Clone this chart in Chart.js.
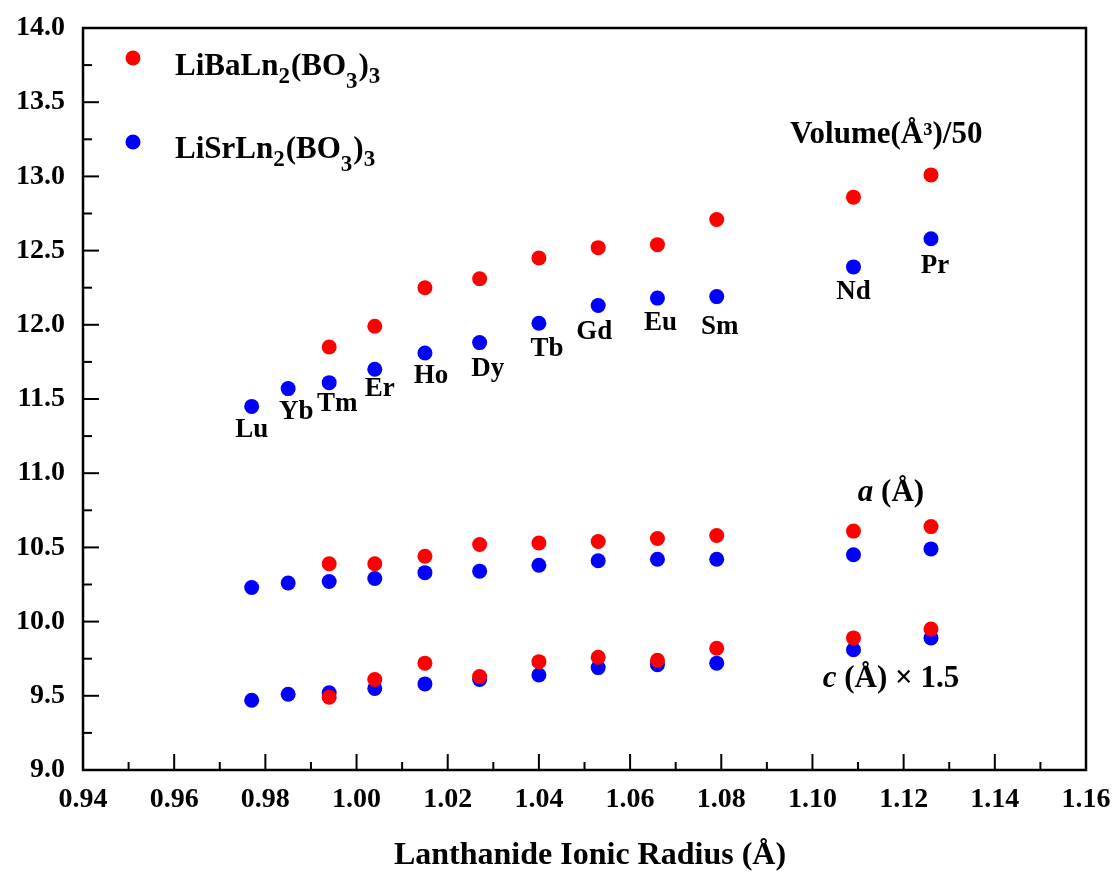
<!DOCTYPE html>
<html>
<head>
<meta charset="utf-8">
<script src="https://cdn.jsdelivr.net/npm/chart.js@4/dist/chart.umd.min.js"></script>
<style>
  html, body { margin: 0; padding: 0; background: #ffffff; }
  #wrap { width: 1115px; height: 875px; }
</style>
</head>
<body>
<div id="wrap"><canvas id="c" width="1115" height="875"></canvas></div>
<script>
// ---- data ----
const elements = ['Lu','Yb','Tm','Er','Ho','Dy','Tb','Gd','Eu','Sm','Nd','Pr'];
const radiusSr = [0.977,0.985,0.994,1.004,1.015,1.027,1.040,1.053,1.066,1.079,1.109,1.126];
const radiusBa = [0.994,1.004,1.015,1.027,1.040,1.053,1.066,1.079,1.109,1.126];

const baVolume = [11.85,11.99,12.25,12.31,12.45,12.52,12.54,12.71,12.86,13.01];
const baA      = [10.39,10.39,10.44,10.52,10.53,10.54,10.56,10.58,10.61,10.64];
const baC      = [9.49,9.61,9.72,9.63,9.73,9.76,9.74,9.82,9.89,9.95];

const srVolume = [11.45,11.57,11.61,11.70,11.81,11.88,12.01,12.13,12.18,12.19,12.39,12.58];
const srA      = [10.23,10.26,10.27,10.29,10.33,10.34,10.38,10.41,10.42,10.42,10.45,10.49];
const srC      = [9.47,9.51,9.52,9.55,9.58,9.61,9.64,9.69,9.71,9.72,9.81,9.89];

const xTicks = [0.94,0.96,0.98,1.00,1.02,1.04,1.06,1.08,1.10,1.12,1.14,1.16];
const yTicks = [9.0,9.5,10.0,10.5,11.0,11.5,12.0,12.5,13.0,13.5,14.0];

const xTitle = 'Lanthanide Ionic Radius (Å)';
const legendBa = [['LiBaLn',0],['2',1],['(BO',0],['3',2],[')',0],['3',1]];
const legendSr = [['LiSrLn',0],['2',1],['(BO',0],['3',2],[')',0],['3',1]];

// ---- helpers ----
function pts(xs, ys) { return xs.map((x, i) => ({ x: x, y: ys[i] })); }
const RED = '#ff0000', BLUE = '#0000ff';
const FONT = '"Liberation Serif", "Times New Roman", serif';

// label offsets (px) relative to the blue volume points
const labelDx = [0,8,8,5,6,8,8,-4,3,3,0,4];
const labelDy = [24,23,21,20,23,26,26,27,25,30,25,27];

const decoPlugin = {
  id: 'deco',
  beforeDatasetsDraw(chart) {
    const ctx = chart.ctx, a = chart.chartArea;
    const xs = chart.scales.x, ys = chart.scales.y;
    ctx.save();
    ctx.strokeStyle = '#000';
    ctx.lineWidth = 2.5;
    ctx.strokeRect(a.left, a.top, a.right - a.left, a.bottom - a.top);
    ctx.lineWidth = 2;
    ctx.fillStyle = '#000';
    ctx.font = 'bold 28px ' + FONT;
    // x ticks (inward) + labels
    ctx.textAlign = 'center';
    ctx.textBaseline = 'middle';
    for (let i = 0; i < xTicks.length; i++) {
      const px = xs.getPixelForValue(xTicks[i]);
      ctx.beginPath(); ctx.moveTo(px, a.bottom); ctx.lineTo(px, a.bottom - 16); ctx.stroke();
      if (i < xTicks.length - 1) {
        const pm = xs.getPixelForValue((xTicks[i] + xTicks[i+1]) / 2);
        ctx.beginPath(); ctx.moveTo(pm, a.bottom); ctx.lineTo(pm, a.bottom - 8); ctx.stroke();
      }
      ctx.fillText(xTicks[i].toFixed(2), px, a.bottom + 30);
    }
    ctx.textAlign = 'right';
    for (let i = 0; i < yTicks.length; i++) {
      const py = ys.getPixelForValue(yTicks[i]);
      ctx.beginPath(); ctx.moveTo(a.left, py); ctx.lineTo(a.left + 16, py); ctx.stroke();
      if (i < yTicks.length - 1) {
        const pm = ys.getPixelForValue((yTicks[i] + yTicks[i+1]) / 2);
        ctx.beginPath(); ctx.moveTo(a.left, pm); ctx.lineTo(a.left + 9, pm); ctx.stroke();
      }
      ctx.fillText(yTicks[i].toFixed(1), a.left - 18, py);
    }
    // x title
    ctx.textAlign = 'center';
    ctx.textBaseline = 'alphabetic';
    ctx.font = 'bold 32px ' + FONT;
    ctx.fillText(xTitle, 590, 864);
    ctx.restore();
  },
  afterDatasetsDraw(chart) {
    const ctx = chart.ctx;
    const xs = chart.scales.x, ys = chart.scales.y;
    ctx.save();
    ctx.fillStyle = '#000';
    // legend
    function drawFormula(parts, x, base) {
      let cx = x;
      ctx.textBaseline = 'alphabetic';
      ctx.textAlign = 'left';
      for (const [t, lvl] of parts) {
        const size = lvl === 0 ? 31 : 23;
        const dy = lvl === 0 ? 0 : (lvl === 1 ? 8 : 13);
        ctx.font = 'bold ' + size + 'px ' + FONT;
        ctx.fillText(t, cx, base + dy);
        cx += ctx.measureText(t).width + (lvl === 0 ? 0 : 1);
      }
    }
    ctx.fillStyle = RED;
    ctx.beginPath(); ctx.arc(133, 58, 7.5, 0, Math.PI*2); ctx.fill();
    ctx.fillStyle = BLUE;
    ctx.beginPath(); ctx.arc(133, 142, 7.5, 0, Math.PI*2); ctx.fill();
    ctx.fillStyle = '#000';
    drawFormula(legendBa, 175, 75);
    drawFormula(legendSr, 175, 158);

    // element labels
    ctx.font = 'bold 27px ' + FONT;
    ctx.textAlign = 'center';
    ctx.textBaseline = 'middle';
    for (let i = 0; i < elements.length; i++) {
      const px = xs.getPixelForValue(radiusSr[i]) + labelDx[i];
      const py = ys.getPixelForValue(srVolume[i]) + labelDy[i];
      ctx.fillText(elements[i], px, py);
    }

    // annotations
    ctx.textBaseline = 'alphabetic';
    ctx.textAlign = 'left';
    ctx.font = 'bold 31px ' + FONT;
    ctx.fillText('Volume(Å³)/50', 790, 143);

    function mixed(parts, cxCenter, base) {
      let w = 0;
      for (const [t, it] of parts) { ctx.font = (it ? 'italic ' : '') + 'bold 31px ' + FONT; w += ctx.measureText(t).width; }
      let x = cxCenter - w / 2;
      for (const [t, it] of parts) {
        ctx.font = (it ? 'italic ' : '') + 'bold 31px ' + FONT;
        ctx.fillText(t, x, base);
        x += ctx.measureText(t).width;
      }
    }
    mixed([['a', true], [' (Å)', false]], 891, 501);
    mixed([['c', true], [' (Å) × 1.5', false]], 891, 687);
    ctx.restore();
  }
};

const ctx = document.getElementById('c').getContext('2d');
new Chart(ctx, {
  type: 'scatter',
  data: {
    datasets: [
      { label: 'LiBaLn2(BO3)3 V/50', data: pts(radiusBa, baVolume), backgroundColor: RED, order: 1 },
      { label: 'LiBaLn2(BO3)3 a', data: pts(radiusBa, baA), backgroundColor: RED, order: 1 },
      { label: 'LiBaLn2(BO3)3 c*1.5', data: pts(radiusBa, baC), backgroundColor: RED, order: 1 },
      { label: 'LiSrLn2(BO3)3 V/50', data: pts(radiusSr, srVolume), backgroundColor: BLUE, order: 2 },
      { label: 'LiSrLn2(BO3)3 a', data: pts(radiusSr, srA), backgroundColor: BLUE, order: 2 },
      { label: 'LiSrLn2(BO3)3 c*1.5', data: pts(radiusSr, srC), backgroundColor: BLUE, order: 2 }
    ]
  },
  options: {
    responsive: false,
    animation: false,
    devicePixelRatio: 1,
    layout: { padding: { left: 83, top: 28, right: 29, bottom: 105 } },
    elements: { point: { radius: 7.5, hoverRadius: 7.5, borderWidth: 0, pointStyle: 'circle' } },
    plugins: { legend: { display: false }, tooltip: { enabled: false } },
    scales: {
      x: {
        type: 'linear', min: 0.94, max: 1.16,
        afterBuildTicks(scale) { scale.ticks = xTicks.map(v => ({ value: v })); },
        afterFit(scale) { scale.height = 0; },
        grid: { display: false, drawTicks: false },
        border: { display: false },
        ticks: { display: false }
      },
      y: {
        type: 'linear', min: 9, max: 14,
        afterBuildTicks(scale) { scale.ticks = yTicks.map(v => ({ value: v })); },
        afterFit(scale) { scale.width = 0; },
        grid: { display: false, drawTicks: false },
        border: { display: false },
        ticks: { display: false }
      }
    }
  },
  plugins: [decoPlugin]
});
</script>
</body>
</html>
